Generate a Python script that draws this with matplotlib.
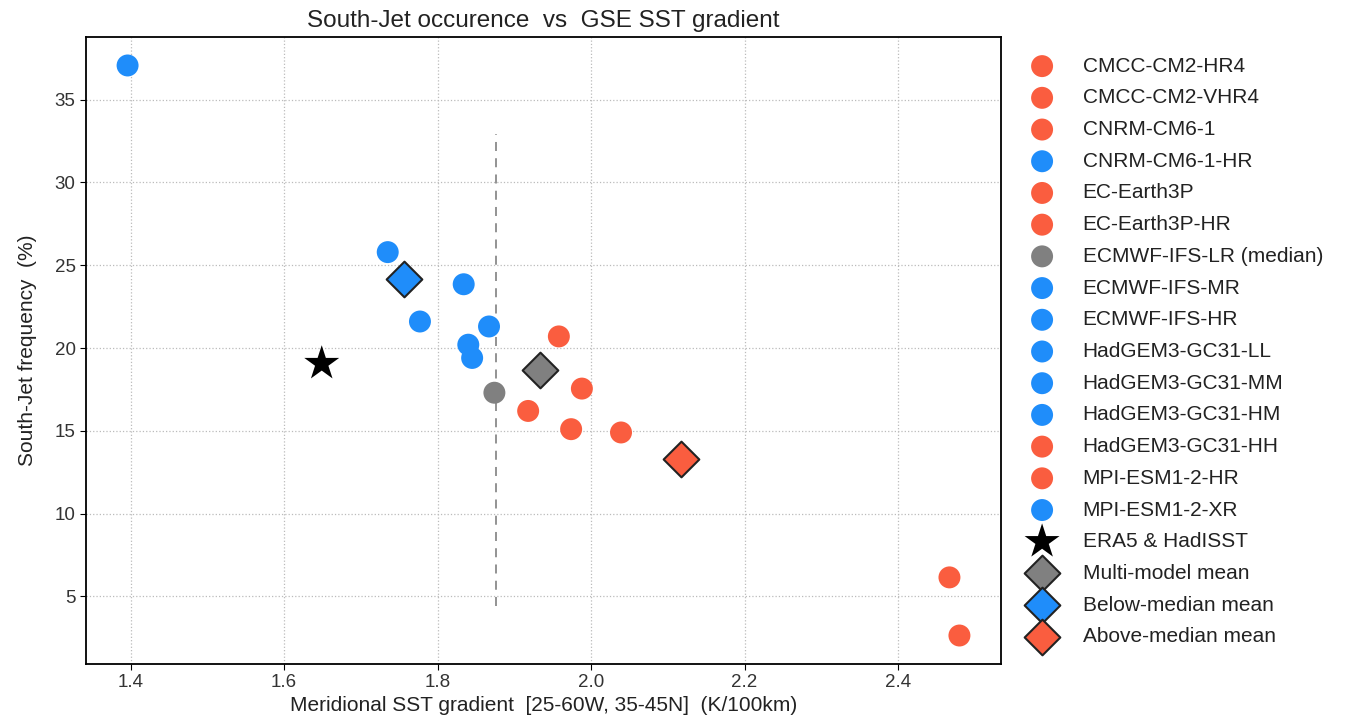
import numpy as np
import matplotlib
matplotlib.use('Agg')
import matplotlib.pyplot as plt

plt.rcParams['font.family'] = ['Liberation Sans', 'DejaVu Sans']

# models, in legend order, with group colour
models = ['CMCC-CM2-HR4', 'CMCC-CM2-VHR4', 'CNRM-CM6-1', 'CNRM-CM6-1-HR',
          'EC-Earth3P', 'EC-Earth3P-HR', 'ECMWF-IFS-LR (median)', 'ECMWF-IFS-MR',
          'ECMWF-IFS-HR', 'HadGEM3-GC31-LL', 'HadGEM3-GC31-MM', 'HadGEM3-GC31-HM',
          'HadGEM3-GC31-HH', 'MPI-ESM1-2-HR', 'MPI-ESM1-2-XR']
group = ['hi', 'hi', 'hi', 'lo', 'hi', 'hi', 'med', 'lo',
         'lo', 'lo', 'lo', 'lo', 'hi', 'hi', 'lo']
sst_grad = [1.958, 1.988, 1.918, 1.834, 1.974, 2.039, 1.874, 1.867,
            1.840, 1.396, 1.735, 1.777, 2.467, 2.480, 1.845]
sj_freq = [20.7, 17.55, 16.2, 23.85, 15.1, 14.9, 17.3, 21.3,
           20.2, 37.06, 25.79, 21.6, 6.15, 2.64, 19.4]

obs_x, obs_y = 1.649, 19.06
median_line_y = [4.4, 32.9]

col = {'hi': '#FA5D3F', 'lo': '#1F8DFA', 'med': '#808080'}

sst_grad = np.array(sst_grad)
sj_freq = np.array(sj_freq)
group = np.array(group)

fig = plt.figure(figsize=(13.52, 7.22), dpi=100)
ax = fig.add_axes([0.0636, 0.0803, 0.6768, 0.8685])

for m, g, x, y in zip(models, group, sst_grad, sj_freq):
    ax.scatter(x, y, s=250, c=col[g], edgecolors='none', label=m, zorder=3)

ax.scatter(obs_x, obs_y, s=700, c='k', marker='*', edgecolors='none',
           label='ERA5 & HadISST', zorder=4)

ax.scatter(sst_grad.mean(), sj_freq.mean(), s=330, marker='D', c=col['med'],
           edgecolors='#222222', linewidths=1.5, label='Multi-model mean', zorder=4)
lo = group == 'lo'
hi = group == 'hi'
ax.scatter(sst_grad[lo].mean(), sj_freq[lo].mean(), s=330, marker='D', c=col['lo'],
           edgecolors='#222222', linewidths=1.5, label='Below-median mean', zorder=4)
ax.scatter(sst_grad[hi].mean(), sj_freq[hi].mean(), s=330, marker='D', c=col['hi'],
           edgecolors='#222222', linewidths=1.5, label='Above-median mean', zorder=4)

med_x = sst_grad[group == 'med'][0] + 0.002
ax.plot([med_x, med_x], median_line_y, ls=(0, (5, 4)), color='#8a8a8a', lw=1.3, zorder=2)

ax.set_xticks([1.4, 1.6, 1.8, 2.0, 2.2, 2.4])
ax.set_yticks([5, 10, 15, 20, 25, 30, 35])
ax.grid(True, ls=':', color='#bbbbbb', lw=0.9)
ax.set_axisbelow(True)
ax.tick_params(labelsize=13.5, colors='#333333', length=4)
ax.tick_params(axis='both', color='k')
for s in ax.spines.values():
    s.set_linewidth(1.3)

ax.set_title('South-Jet occurence  vs  GSE SST gradient', fontsize=17.5, color='#222222', pad=7)
ax.set_xlabel('Meridional SST gradient  [25-60W, 35-45N]  (K/100km)', fontsize=15, color='#222222', labelpad=3)
ax.set_ylabel('South-Jet frequency  (%)', fontsize=15, color='#222222', labelpad=13)

leg = ax.legend(loc='upper left', bbox_to_anchor=(1.013, 0.982), frameon=False,
                fontsize=15, labelspacing=0.61, handletextpad=0.95,
                borderaxespad=0, scatterpoints=1)
for t in leg.get_texts():
    t.set_color('#222222')

fig.savefig('out.png', dpi=100)
